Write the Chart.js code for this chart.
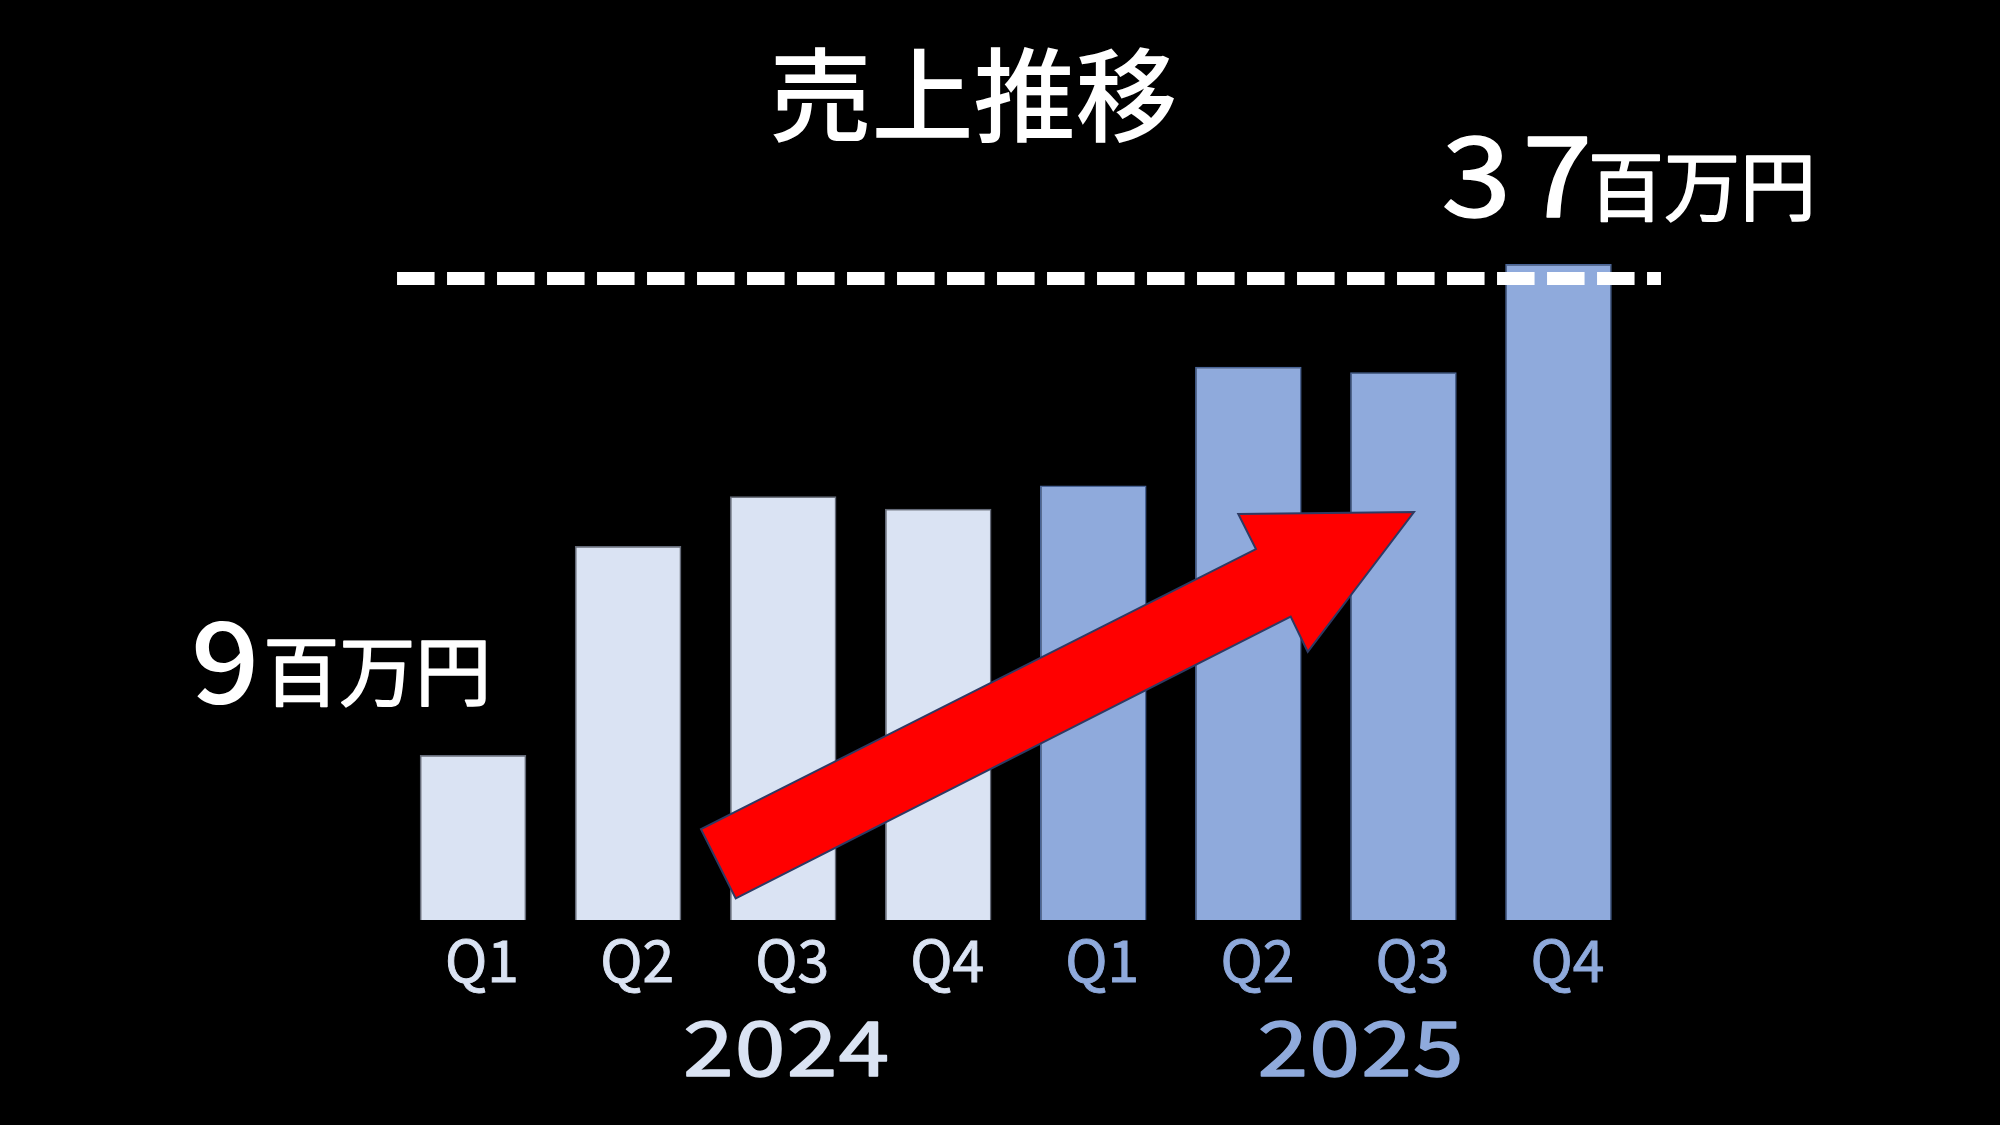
<!DOCTYPE html>
<html>
<head>
<meta charset="utf-8">
<script src="https://cdn.jsdelivr.net/npm/chart.js@4.4.1/dist/chart.umd.min.js"></script>
<style>
  html, body { margin: 0; padding: 0; background: #000; }
  #wrap { width: 2000px; height: 1125px; }
</style>
</head>
<body>
<div id="wrap"><canvas id="c" width="2000" height="1125"></canvas></div>
<script>
// ---- data ----
const quarters = ['Q1', 'Q2', 'Q3', 'Q4', 'Q1', 'Q2', 'Q3', 'Q4'];
const quarterYears = ['2024', '2024', '2024', '2024', '2025', '2025', '2025', '2025'];
const sales = [9.3, 21.1, 23.9, 23.2, 24.5, 31.2, 30.9, 37];   // 百万円
const yearLabels = ['2024', '2025'];
const unitLabel = '百万円';
const titleText = '売上推移';

// ---- style ----
const FONT = '"Noto Sans CJK JP", "Noto Sans", sans-serif';
const yearFill = { '2024': '#DAE3F3', '2025': '#8FAADC' };
const yearBorder = { '2024': '#646a78', '2025': '#4a6597' };

function drawInk(ctx, text, font, color, o) {
  ctx.save();
  ctx.font = font;
  ctx.letterSpacing = (o.ls || 0) + 'px';
  ctx.textAlign = 'left';
  ctx.textBaseline = 'alphabetic';
  ctx.fillStyle = color;
  const sx = o.sx || 1;
  const m = ctx.measureText(text);
  const inkW = (m.actualBoundingBoxLeft + m.actualBoundingBoxRight - (o.ls || 0)) * sx;
  let left;
  if (o.left != null) left = o.left;
  else left = o.cx - inkW / 2;
  let y;
  if (o.bottom != null) y = o.bottom - m.actualBoundingBoxDescent;
  else if (o.top != null) y = o.top + m.actualBoundingBoxAscent;
  else y = o.cy + (m.actualBoundingBoxAscent - m.actualBoundingBoxDescent) / 2;
  ctx.translate(left, y);
  ctx.scale(sx, 1);
  ctx.fillText(text, m.actualBoundingBoxLeft, 0);
  if (o.stroke) {
    ctx.strokeStyle = color;
    ctx.lineWidth = o.stroke;
    ctx.lineJoin = 'round';
    ctx.strokeText(text, m.actualBoundingBoxLeft, 0);
  }
  ctx.restore();
  return { left: left, right: left + inkW };
}

const overlay = {
  id: 'overlay',
  afterDatasetsDraw(chart) {
    const { ctx, scales: { x, y } } = chart;
    // dashed target line
    ctx.save();
    ctx.strokeStyle = '#FFFFFF';
    ctx.lineWidth = 13;
    ctx.lineCap = 'butt';
    ctx.setLineDash([37.5, 12.5]);
    ctx.beginPath();
    ctx.moveTo(x.getPixelForValue(-0.490), y.getPixelForValue(36.18));
    ctx.lineTo(x.getPixelForValue(7.661), y.getPixelForValue(36.18));
    ctx.stroke();
    ctx.restore();

    // growth arrow (in data space)
    const arrow = [
      [1.470, 5.12], [5.049, 20.92], [4.935, 22.90], [6.068, 23.01],
      [5.383, 15.13], [5.273, 17.11], [1.694, 1.22]
    ];
    ctx.save();
    ctx.beginPath();
    arrow.forEach(([i, v], k) => {
      const px = x.getPixelForValue(i), py = y.getPixelForValue(v);
      if (k === 0) ctx.moveTo(px, py); else ctx.lineTo(px, py);
    });
    ctx.closePath();
    ctx.fillStyle = '#FF0000';
    ctx.fill();
    ctx.lineWidth = 2;
    ctx.lineJoin = 'miter';
    ctx.strokeStyle = '#2E3A63';
    ctx.stroke();
    ctx.restore();
  },
  afterDraw(chart) {
    const { ctx, scales: { x, y }, chartArea } = chart;
    // title
    drawInk(ctx, titleText, '500 102px ' + FONT, '#FFFFFF', { cx: 973.6, cy: 95.3 });

    // first value label
    const first = Math.round(sales[0]);
    const x0 = x.getPixelForValue(0), y0 = y.getPixelForValue(sales[0]);
    const d1 = drawInk(ctx, String(first), '500 112px ' + FONT, '#FFFFFF', { left: x0 - 278, bottom: y0 - 50, sx: 1.08 });
    drawInk(ctx, unitLabel, '76px ' + FONT, '#FFFFFF', { left: d1.right + 14, bottom: y0 - 48, stroke: 1.6 });

    // last value label
    const n = sales.length - 1;
    const last = Math.round(sales[n]);
    const xn = x.getPixelForValue(n), yn = y.getPixelForValue(sales[n]);
    const d2 = drawInk(ctx, String(last), '112px ' + FONT, '#FFFFFF', { left: xn - 113.5, bottom: yn - 46, ls: 10, sx: 1.12, stroke: 1.6 });
    drawInk(ctx, unitLabel, '76px ' + FONT, '#FFFFFF', { left: d2.right + 17, bottom: yn - 42, stroke: 1.6 });

    // year labels
    const yearPos = { '2024': 2.018, '2025': 5.719 };
    yearLabels.forEach(yr => {
      drawInk(ctx, yr, '76px ' + FONT, yearFill[yr], { cx: x.getPixelForValue(yearPos[yr]), bottom: chartArea.bottom + 157, ls: 1, sx: 1.2, stroke: 1.4 });
    });
  }
};

new Chart(document.getElementById('c').getContext('2d'), {
  type: 'bar',
  data: {
    labels: quarters,
    datasets: [{
      data: sales,
      backgroundColor: quarterYears.map(yr => yearFill[yr]),
      borderColor: quarterYears.map(yr => yearBorder[yr]),
      borderWidth: 1.5,
      barPercentage: 0.687,
      categoryPercentage: 1
    }]
  },
  options: {
    responsive: false,
    animation: false,
    devicePixelRatio: 1,
    layout: { padding: { left: 395.5, right: 364, top: 33.5, bottom: 0 } },
    plugins: { legend: { display: false }, tooltip: { enabled: false }, title: { display: false } },
    scales: {
      x: {
        grid: { display: false, drawTicks: false },
        border: { display: false },
        ticks: {
          color: c => yearFill[quarterYears[c.index]],
          textStrokeColor: c => yearFill[quarterYears[c.index]],
          textStrokeWidth: 0.9,
          font: { family: FONT, size: 57 },
          padding: 6,
          labelOffset: 9,
          autoSkip: false,
          maxRotation: 0
        },
        afterFit: s => { s.height = 205; }
      },
      y: { display: false, min: 0, max: 50 }
    }
  },
  plugins: [overlay]
});
</script>
</body>
</html>
